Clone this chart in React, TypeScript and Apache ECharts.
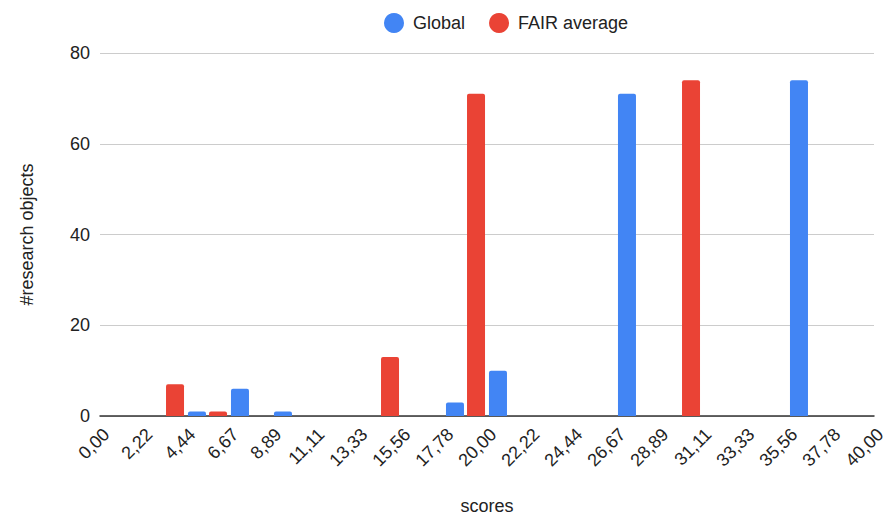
import React, { useEffect, useRef } from "react";
import * as echarts from "echarts";

const categories = ["0,00","2,22","4,44","6,67","8,89","11,11","13,33","15,56","17,78","20,00","22,22","24,44","26,67","28,89","31,11","33,33","35,56","37,78","40,00"];
const fairAverage = [0,0,7,1,0,0,0,13,0,71,0,0,0,0,74,0,0,0,0];
const globalValues = [0,0,1,6,1,0,0,0,3,10,0,0,71,0,0,0,74,0,0];
const yTicks = { min: 0, max: 80, interval: 20 };

export default function App() {
  const ref = useRef<HTMLDivElement>(null);
  useEffect(() => {
    const chart = echarts.init(ref.current!, null, { renderer: "svg" });
    const font = "Liberation Sans, Arial, sans-serif";
    const fs = 18;
    chart.setOption({
      animation: false,
      textStyle: { fontFamily: font },
      legend: {
        data: ["Global", "FAIR average"],
        top: 8,
        left: 379,
        icon: "circle",
        itemWidth: 20,
        itemHeight: 20,
        itemGap: 24,
        textStyle: { fontSize: fs, color: "#222", fontFamily: font, padding: [0, 0, 0, 4] },
      },
      grid: { left: 100, right: 12, top: 53, bottom: 102, containLabel: false, outerBoundsMode: "none" },
      xAxis: {
        type: "category",
        data: categories,
        boundaryGap: false,
        name: "scores",
        nameLocation: "middle",
        nameGap: 81,
        nameTextStyle: { fontSize: fs, color: "#222", fontFamily: font },
        axisLine: { lineStyle: { color: "#333", width: 1.5 } },
        axisTick: { show: false },
        axisLabel: { rotate: 45, fontSize: fs, color: "#222", margin: 9, interval: 0, verticalAlign: "top", fontFamily: font },
        splitLine: { show: false },
      },
      yAxis: {
        type: "value",
        min: yTicks.min,
        max: yTicks.max,
        interval: yTicks.interval,
        name: "#research objects",
        nameLocation: "middle",
        nameGap: 64,
        nameTextStyle: { fontSize: fs, color: "#222", fontFamily: font },
        axisLine: { show: false },
        axisTick: { show: false },
        axisLabel: { fontSize: fs, color: "#222", margin: 10, fontFamily: font },
        splitLine: { lineStyle: { color: "#ccc" } },
      },
      series: [
        {
          name: "FAIR average",
          type: "bar",
          data: fairAverage,
          barWidth: 18,
          barGap: "22%",
          itemStyle: { color: "#EA4335", borderRadius: [2, 2, 0, 0] },
        },
        {
          name: "Global",
          type: "bar",
          data: globalValues,
          barWidth: 18,
          barGap: "22%",
          itemStyle: { color: "#4285F4", borderRadius: [2, 2, 0, 0] },
        },
      ],
    });
    return () => chart.dispose();
  }, []);
  return <div ref={ref} style={{ position: "absolute", left: 0, top: 0, width: 886, height: 518 }} />;
}
